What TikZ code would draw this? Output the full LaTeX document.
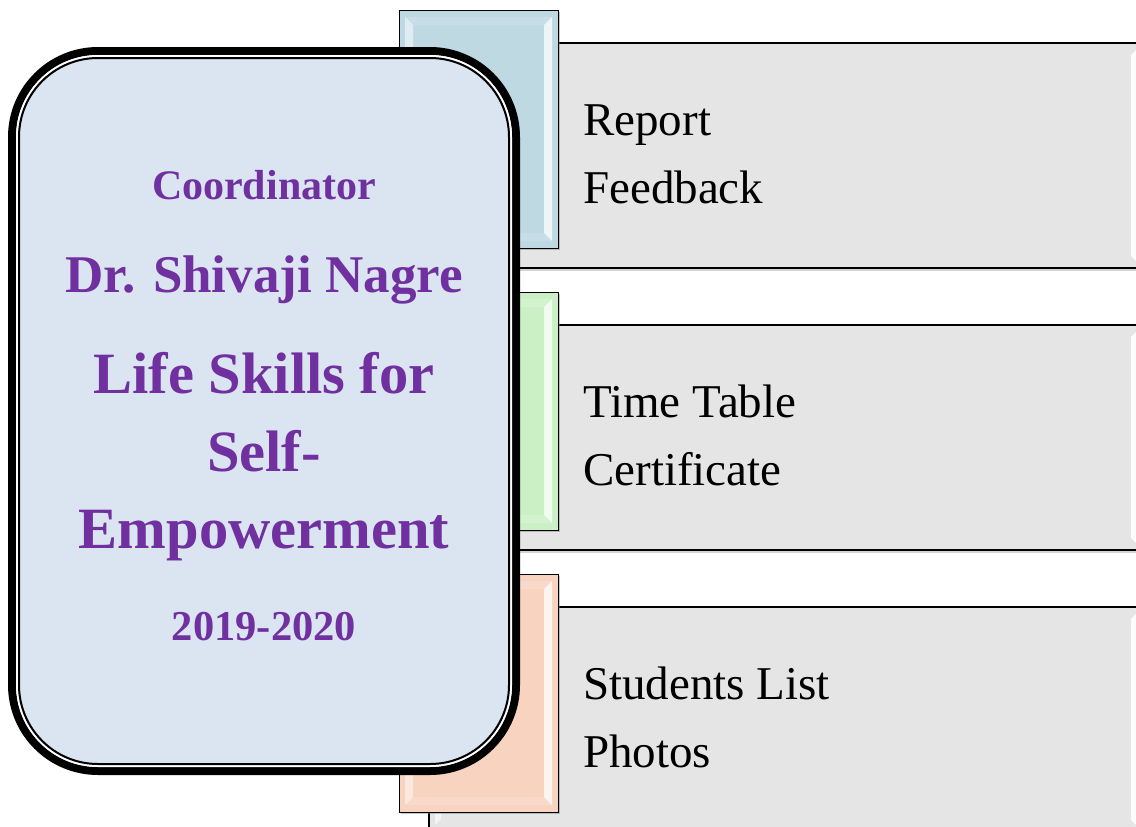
\documentclass[tikz,border=0pt]{standalone}
\usepackage{fontspec}
\setmainfont{Liberation Serif}
\usetikzlibrary{calc,shadows}

\definecolor{coordfill}{HTML}{DBE5F1}
\definecolor{coordtext}{HTML}{7030A0}
\definecolor{tabblue}{HTML}{BFD9E3}
\definecolor{tabgreen}{HTML}{CCF0C6}
\definecolor{tabpeach}{HTML}{F8D3C0}
\definecolor{panelgray}{HTML}{E5E5E5}

\tikzset{
	bevel/.style={path picture={
		\coordinate (bnw) at (path picture bounding box.north west);
		\coordinate (bse) at (path picture bounding box.south east);
		\fill[white, opacity=.5] ($(bnw)+(6,7)$) -- ($(bnw)+(14,15)$) -- ($(bnw|-bse)+(14,-15)$) -- ($(bnw|-bse)+(6,-7)$) -- cycle;
		\fill[white, opacity=.75] ($(bse|-bnw)+(-6,7)$) -- ($(bse|-bnw)+(-14,15)$) -- ($(bse)+(-14,-15)$) -- ($(bse)+(-6,-7)$) -- cycle;
		\fill[white, opacity=.15] ($(bnw)+(6,7)$) -- ($(bse|-bnw)+(-6,7)$) -- ($(bse|-bnw)+(-14,15)$) -- ($(bnw)+(14,15)$) -- cycle;
		\fill[white, opacity=.15] ($(bnw|-bse)+(6,-7)$) -- ($(bse)+(-6,-7)$) -- ($(bse)+(-14,-15)$) -- ($(bnw|-bse)+(14,-15)$) -- cycle;
	}},
	panelbevel/.style={path picture={
		\coordinate (bnw) at (path picture bounding box.north west);
		\coordinate (bse) at (path picture bounding box.south east);
		\fill[white, opacity=.6] ($(bnw)+(6,7)$) -- ($(bnw)+(12,13)$) -- ($(bnw|-bse)+(12,-13)$) -- ($(bnw|-bse)+(6,-7)$) -- cycle;
		\fill[white, opacity=.9] ($(bse|-bnw)+(-6,7)$) -- ($(bse|-bnw)+(-11,12)$) -- ($(bse)+(-11,-12)$) -- ($(bse)+(-6,-7)$) -- cycle;
	}},
	panel/.style={rectangle, draw=black, line width=1.5pt, fill=panelgray, panelbevel,
		inner sep=0pt, outer sep=0pt, anchor=north west,
		minimum width=713pt, minimum height=225pt,
		drop shadow={shadow xshift=1pt, shadow yshift=-2.5pt, opacity=.35}},
	tab/.style={rectangle, draw=black, line width=1pt, bevel,
		inner sep=0pt, outer sep=0pt, anchor=north west,
		minimum width=159pt, minimum height=238pt,
		drop shadow={shadow xshift=2pt, shadow yshift=-2pt, opacity=.45}},
	coordbox/.style={rectangle, rounded corners=86pt, draw=black, line width=8pt,
		fill=coordfill, inner sep=0pt, outer sep=0pt},
	headline/.style={anchor=base, inner sep=0pt, text=coordtext, font=\bfseries},
	item/.style={anchor=base west, inner sep=0pt, font=\fontsize{47}{56}\selectfont}
}

\begin{document}
\begin{tikzpicture}[x=1pt, y=-1pt]
	\useasboundingbox (0,0) rectangle (1136,827);
	\clip (0,0) rectangle (1136,827);
	
	% Pannelli grigi
	\node[panel] (p1) at (429,43) {};
	\node[panel] (p2) at (429,325) {};
	\node[panel] (p3) at (429,607) {};
	
	% Linguette colorate
	\node[tab, fill=tabblue] (t1) at (399,10) {};
	\node[tab, fill=tabgreen] (t2) at (399,292) {};
	\node[tab, fill=tabpeach] (t3) at (399,574) {};
	
	% Riquadro del coordinatore
	\node[coordbox, minimum width=504pt, minimum height=720pt] (coord) at (264,411) {};
	\draw[white, line width=2pt, rounded corners=81pt] ($(coord.north west)+(5,5)$) rectangle ($(coord.south east)+(-5,-5)$);
	\draw[black, line width=2pt, rounded corners=79pt] ($(coord.north west)+(7,7)$) rectangle ($(coord.south east)+(-7,-7)$);
	
	\node[headline, font=\fontsize{42}{50}\selectfont\bfseries] (role) at (264,199) {Coordinator};
	\node[headline, font=\fontsize{53}{62}\selectfont\bfseries] (name) at (264,292) {Dr. Shivaji Nagre};
	\node[headline, font=\fontsize{58.5}{68}\selectfont\bfseries] (prog1) at (264,393) {Life Skills for};
	\node[headline, font=\fontsize{58.5}{68}\selectfont\bfseries] (prog2) at (264,471) {Self-};
	\node[headline, font=\fontsize{58.5}{68}\selectfont\bfseries] (prog3) at (264,548) {Empowerment};
	\node[headline, font=\fontsize{42.5}{50}\selectfont\bfseries] (year) at (264,640) {2019-2020};
	
	% Voci dei pannelli
	\node[item] (report) at (583,135) {Report};
	\node[item] (feedback) at (583,203) {Feedback};
	\node[item] (timetable) at (583,417) {Time Table};
	\node[item] (certificate) at (583,485) {Certificate};
	\node[item] (students) at (583,699) {Students List};
	\node[item] (photos) at (583,767) {Photos};
\end{tikzpicture}
\end{document}
